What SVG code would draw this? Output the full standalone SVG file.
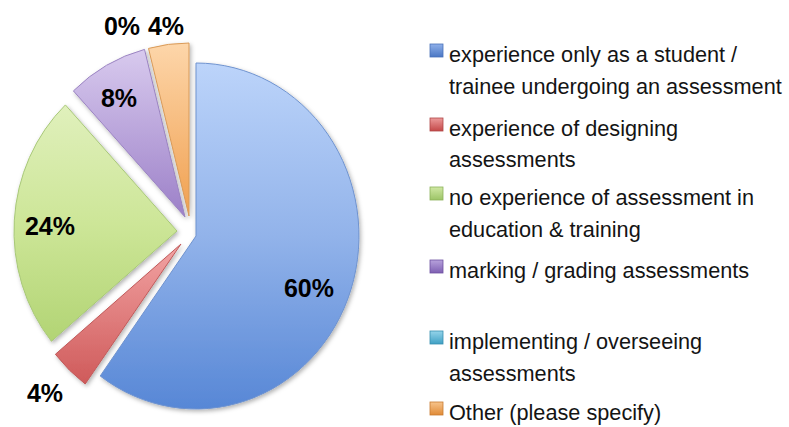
<svg xmlns="http://www.w3.org/2000/svg" width="789" height="427" viewBox="0 0 789 427">
<style>
.slice{stroke-width:1;filter:url(#sh)}
.pct{font-family:"Liberation Sans",Arial,sans-serif;font-weight:bold;font-size:25px;fill:#000;text-anchor:middle}
.leg{font-family:"Liberation Sans",Arial,sans-serif;font-size:21.7px;fill:#141414}
.sq{stroke-width:0.8}
</style>
<defs>
<filter id="sh" x="-10%" y="-10%" width="130%" height="130%">
<feDropShadow dx="1.5" dy="2" stdDeviation="2" flood-color="#000" flood-opacity="0.3"/>
</filter>
<linearGradient id="gB" x1="0" y1="0" x2="0" y2="1"><stop offset="0" stop-color="#bcd4fa"/><stop offset="0.5" stop-color="#92b3ea"/><stop offset="1" stop-color="#5787d6"/></linearGradient>
<linearGradient id="gR" x1="0" y1="0" x2="0" y2="1"><stop offset="0" stop-color="#f2a3a3"/><stop offset="1" stop-color="#cf5a5a"/></linearGradient>
<linearGradient id="gG" x1="0" y1="0" x2="0" y2="1"><stop offset="0" stop-color="#e0f0bc"/><stop offset="0.5" stop-color="#cde698"/><stop offset="1" stop-color="#b2d474"/></linearGradient>
<linearGradient id="gP" x1="0" y1="0" x2="0" y2="1"><stop offset="0" stop-color="#d8caee"/><stop offset="1" stop-color="#9c80c8"/></linearGradient>
<linearGradient id="gO" x1="0" y1="0" x2="0" y2="1"><stop offset="0" stop-color="#fdd6aa"/><stop offset="1" stop-color="#f0a050"/></linearGradient>
<linearGradient id="lB" x1="0" y1="0" x2="0" y2="1"><stop offset="0" stop-color="#8fb0ea"/><stop offset="1" stop-color="#4a77c4"/></linearGradient>
<linearGradient id="lR" x1="0" y1="0" x2="0" y2="1"><stop offset="0" stop-color="#ec9a9a"/><stop offset="1" stop-color="#c44848"/></linearGradient>
<linearGradient id="lG" x1="0" y1="0" x2="0" y2="1"><stop offset="0" stop-color="#d0e8a4"/><stop offset="1" stop-color="#9cc466"/></linearGradient>
<linearGradient id="lP" x1="0" y1="0" x2="0" y2="1"><stop offset="0" stop-color="#b7a2dc"/><stop offset="1" stop-color="#7e5fb2"/></linearGradient>
<linearGradient id="lC" x1="0" y1="0" x2="0" y2="1"><stop offset="0" stop-color="#94d4ea"/><stop offset="1" stop-color="#3fa0c4"/></linearGradient>
<linearGradient id="lO" x1="0" y1="0" x2="0" y2="1"><stop offset="0" stop-color="#f7c48c"/><stop offset="1" stop-color="#e08a36"/></linearGradient>
</defs>

<g id="slice-blue">
<path class="slice" d="M196,236 L196,63 A163,173 0 1 1 100.2,376 Z" fill="url(#gB)" stroke="#6f93cf"/>
<text class="pct" x="309" y="297">60%</text>
</g>
<g id="slice-red">
<path class="slice" d="M181,244 L85.2,384 A163,173 0 0 1 55.4,354.3 Z" fill="url(#gR)" stroke="#c05a5a"/>
<text class="pct" x="45" y="402">4%</text>
</g>
<g id="slice-green">
<path class="slice" d="M177,231 L51.4,341.3 A163,173 0 0 1 65.4,104.9 Z" fill="url(#gG)" stroke="#a8c878"/>
<text class="pct" x="50" y="235">24%</text>
</g>
<g id="slice-purple">
<path class="slice" d="M185,217 L73.4,90.9 A163,173 0 0 1 144.5,49.4 Z" fill="url(#gP)" stroke="#9b84c2"/>
<text class="pct" x="119" y="107">8%</text>
</g>
<g id="slice-cyan">
<text class="pct" x="122" y="35">0%</text>
</g>
<g id="slice-orange">
<path class="slice" d="M189,216 L148.5,48.4 A163,173 0 0 1 189,43 Z" fill="url(#gO)" stroke="#d99a58"/>
<text class="pct" x="166" y="35">4%</text>
</g>

<g id="legend">
<g id="legend-student">
<rect class="sq" x="430" y="44" width="13" height="13" fill="url(#lB)" stroke="#4a72b8"/>
<text class="leg" x="449" y="62">experience only as a student /</text>
<text class="leg" x="449" y="94">trainee undergoing an assessment</text>
</g>
<g id="legend-designing">
<rect class="sq" x="430" y="118" width="13" height="13" fill="url(#lR)" stroke="#b04646"/>
<text class="leg" x="449" y="136">experience of designing</text>
<text class="leg" x="449" y="167">assessments</text>
</g>
<g id="legend-none">
<rect class="sq" x="430" y="187" width="13" height="13" fill="url(#lG)" stroke="#8cb25a"/>
<text class="leg" x="449" y="205">no experience of assessment in</text>
<text class="leg" x="449" y="237">education &amp; training</text>
</g>
<g id="legend-marking">
<rect class="sq" x="430" y="260" width="13" height="13" fill="url(#lP)" stroke="#6e52a0"/>
<text class="leg" x="449" y="278">marking / grading assessments</text>
</g>
<g id="legend-implementing">
<rect class="sq" x="430" y="331" width="13" height="13" fill="url(#lC)" stroke="#3890b0"/>
<text class="leg" x="449" y="349">implementing / overseeing</text>
<text class="leg" x="449" y="381">assessments</text>
</g>
<g id="legend-other">
<rect class="sq" x="430" y="402" width="13" height="13" fill="url(#lO)" stroke="#c87a30"/>
<text class="leg" x="449" y="420">Other (please specify)</text>
</g>
</g>
</svg>
